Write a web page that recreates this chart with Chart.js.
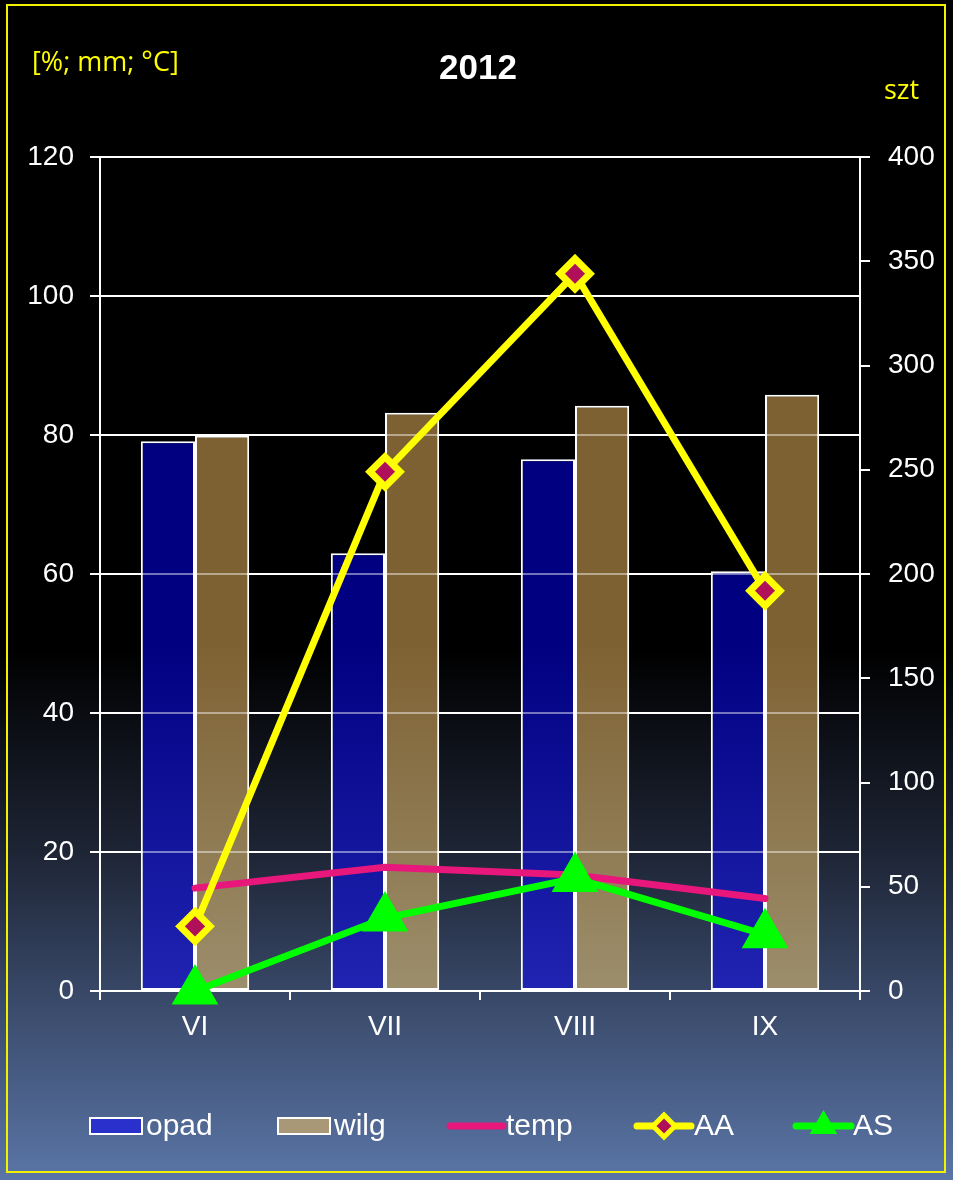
<!DOCTYPE html>
<html>
<head>
<meta charset="utf-8">
<script src="https://cdn.jsdelivr.net/npm/chart.js@4/dist/chart.umd.min.js"></script>
<style>
  body { margin: 0; background: #000; }
  #box { width: 953px; height: 1180px; position: relative; }
</style>
</head>
<body>
<div id="box"><canvas id="wykres"></canvas></div>
<script>
// dane (lewa os: %, mm, C; prawa os: szt)
const miesiace = ['VI', 'VII', 'VIII', 'IX']
const opad = [79.1, 63.0, 76.5, 60.4]
const wilg = [79.9, 83.2, 84.2, 85.8]
const temp = [14.8, 17.8, 16.7, 13.3]
const aa = [31, 249, 344, 192]
const as = [0, 35, 54, 27]

const lewaTicks = [0, 20, 40, 60, 80, 100, 120]
const prawaTicks = [0, 50, 100, 150, 200, 250, 300, 350, 400]

const FONT = '"Liberation Sans", Arial, sans-serif'

// gradient na slupkach - ten sam dla calego obszaru wykresu
function gradient(ctx, kolorGora, kolorDol) {
    const chart = ctx.chart
    const a = chart.chartArea
    if (!a) return kolorGora
    const g = chart.ctx.createLinearGradient(0, a.top, 0, a.bottom)
    g.addColorStop(0, kolorGora)
    g.addColorStop(0.58, kolorGora)
    g.addColorStop(1, kolorDol)
    return g
}

// tlo i ramka
const tlo = {
    id: 'tlo',
    beforeDraw(chart) {
        const c = chart.ctx
        const g = c.createLinearGradient(0, 0, 0, chart.height)
        g.addColorStop(0, '#000000')
        g.addColorStop(0.55, '#000000')
        g.addColorStop(0.72, '#1d2434')
        g.addColorStop(0.85, '#3a4a6a')
        g.addColorStop(1, '#5a75a6')
        c.save()
        c.fillStyle = g
        c.fillRect(0, 0, chart.width, chart.height)
        c.strokeStyle = '#f2f200'
        c.lineWidth = 2
        c.strokeRect(7, 5, 938, 1167)
        c.restore()
    }
}

// linie siatki na slupkach (polprzezroczyste)
const siatkaNaSlupkach = {
    id: 'siatkaNaSlupkach',
    afterDatasetDraw(chart, args) {
        if (args.index !== 0) return
        const a = chart.chartArea
        const y = chart.scales.y
        const c = chart.ctx
        c.save()
        c.strokeStyle = 'rgba(255,255,255,0.45)'
        c.lineWidth = 2
        for (const t of lewaTicks) {
            const py = Math.round(y.getPixelForValue(t))
            c.beginPath()
            c.moveTo(a.left, py)
            c.lineTo(a.right, py)
            c.stroke()
        }
        c.restore()
    }
}

// tytul, opisy osi i legenda
const opisy = {
    id: 'opisy',
    afterDraw(chart) {
        const c = chart.ctx
        c.save()
        c.fillStyle = '#ffffff'
        c.font = 'bold 35px ' + FONT
        c.textAlign = 'center'
        c.textBaseline = 'alphabetic'
        c.fillText('2012', 478, 79)

        c.fillStyle = '#ffff00'
        c.font = '27px "Open Sans", "Noto Sans", sans-serif'
        c.textAlign = 'left'
        c.fillText('[%; mm; \u00B0C]', 32, 71)
        c.fillText('szt', 884, 99)

        // legenda
        const ly = 1126
        c.font = '30px ' + FONT
        c.textBaseline = 'middle'
        const ds = {}
        chart.data.datasets.forEach(d => { ds[d.label] = d })
        // opad
        c.fillStyle = '#2a30cc'
        c.fillRect(90, ly - 8, 52, 16)
        c.strokeStyle = '#ffffff'
        c.lineWidth = 2
        c.strokeRect(90, ly - 8, 52, 16)
        c.fillStyle = '#ffffff'
        c.fillText('opad', 146, ly + 1)
        // wilg
        c.fillStyle = '#a89878'
        c.fillRect(278, ly - 8, 52, 16)
        c.strokeRect(278, ly - 8, 52, 16)
        c.fillStyle = '#ffffff'
        c.fillText('wilg', 334, ly + 1)
        // linie
        const linie = [
            { d: ds.temp, x0: 450, x1: 503, tx: 506 },
            { d: ds.AA, x0: 637, x1: 691, tx: 694 },
            { d: ds.AS, x0: 796, x1: 851, tx: 853 }
        ]
        for (const l of linie) {
            c.strokeStyle = l.d.borderColor
            c.lineWidth = 7
            c.lineCap = 'round'
            c.beginPath()
            c.moveTo(l.x0, ly)
            c.lineTo(l.x1, ly)
            c.stroke()
            if (l.d.pointRadius) {
                c.fillStyle = l.d.pointBackgroundColor
                c.strokeStyle = l.d.pointBorderColor
                c.lineWidth = 5
                Chart.helpers.drawPoint(c, {
                    pointStyle: l.d.pointStyle,
                    radius: 11,
                    borderWidth: 5
                }, (l.x0 + l.x1) / 2, ly)
            }
            c.fillStyle = '#ffffff'
            c.fillText(l.d.label, l.tx, ly + 1)
        }
        c.restore()
    }
}

const ctx = document.getElementById('wykres')
const chart = new Chart(ctx, {
    data: {
        labels: miesiace,
        datasets: [
            {
                type: 'bar', label: 'opad', data: opad, yAxisID: 'y', order: 10,
                backgroundColor: c => gradient(c, '#000080', '#2024b2'),
                borderColor: '#ffffff', borderWidth: 2, borderSkipped: false,
                barPercentage: 1, categoryPercentage: 0.57
            },
            {
                type: 'bar', label: 'wilg', data: wilg, yAxisID: 'y', order: 10,
                backgroundColor: c => gradient(c, '#7e6132', '#9c8e6c'),
                borderColor: '#ffffff', borderWidth: 2, borderSkipped: false,
                barPercentage: 1, categoryPercentage: 0.57
            },
            {
                type: 'line', label: 'temp', data: temp, yAxisID: 'y', order: 3,
                borderColor: '#e8177b', borderWidth: 7, pointRadius: 0,
                borderCapStyle: 'round', clip: false
            },
            {
                type: 'line', label: 'AA', data: aa, yAxisID: 'y1', order: 1,
                borderColor: '#ffff00', borderWidth: 7, borderCapStyle: 'round',
                pointStyle: 'rectRot', pointRadius: 15, clip: false,
                pointBackgroundColor: '#b0105a', pointBorderColor: '#ffff00', pointBorderWidth: 7
            },
            {
                type: 'line', label: 'AS', data: as, yAxisID: 'y1', order: 2,
                borderColor: '#00ff00', borderWidth: 7, borderCapStyle: 'round',
                pointStyle: 'triangle', pointRadius: 22, clip: false,
                pointBackgroundColor: '#00ff00', pointBorderColor: '#00ff00', pointBorderWidth: 5
            }
        ]
    },
    options: {
        responsive: true,
        maintainAspectRatio: false,
        animation: false,
        devicePixelRatio: 1,
        layout: { padding: { top: 157, left: 0, right: 0, bottom: 0 } },
        plugins: {
            legend: { display: false },
            title: { display: false },
            tooltip: { enabled: false }
        },
        scales: {
            x: {
                offset: true,
                grid: { drawOnChartArea: false, color: '#ffffff', lineWidth: 2, tickLength: 9, offset: true },
                border: { color: '#ffffff', width: 2 },
                ticks: { color: '#ffffff', font: { family: FONT, size: 28 }, padding: 10 },
                afterFit: s => { s.height = 189 }
            },
            y: {
                position: 'left', min: 0, max: 120,
                afterBuildTicks: s => { s.ticks = lewaTicks.map(v => ({ value: v })) },
                grid: { color: '#ffffff', lineWidth: 2, tickLength: 10 },
                border: { color: '#ffffff', width: 2 },
                ticks: { color: '#ffffff', font: { family: FONT, size: 28 }, padding: 16 },
                afterFit: s => { s.width = 100 }
            },
            y1: {
                position: 'right', min: 0, max: 400,
                afterBuildTicks: s => { s.ticks = prawaTicks.map(v => ({ value: v })) },
                grid: { drawOnChartArea: false, color: '#ffffff', lineWidth: 2, tickLength: 10 },
                border: { color: '#ffffff', width: 2 },
                ticks: { color: '#ffffff', font: { family: FONT, size: 28 }, padding: 18 },
                afterFit: s => { s.width = 93 }
            }
        }
    },
    plugins: [tlo, siatkaNaSlupkach, opisy]
})
</script>
</body>
</html>
